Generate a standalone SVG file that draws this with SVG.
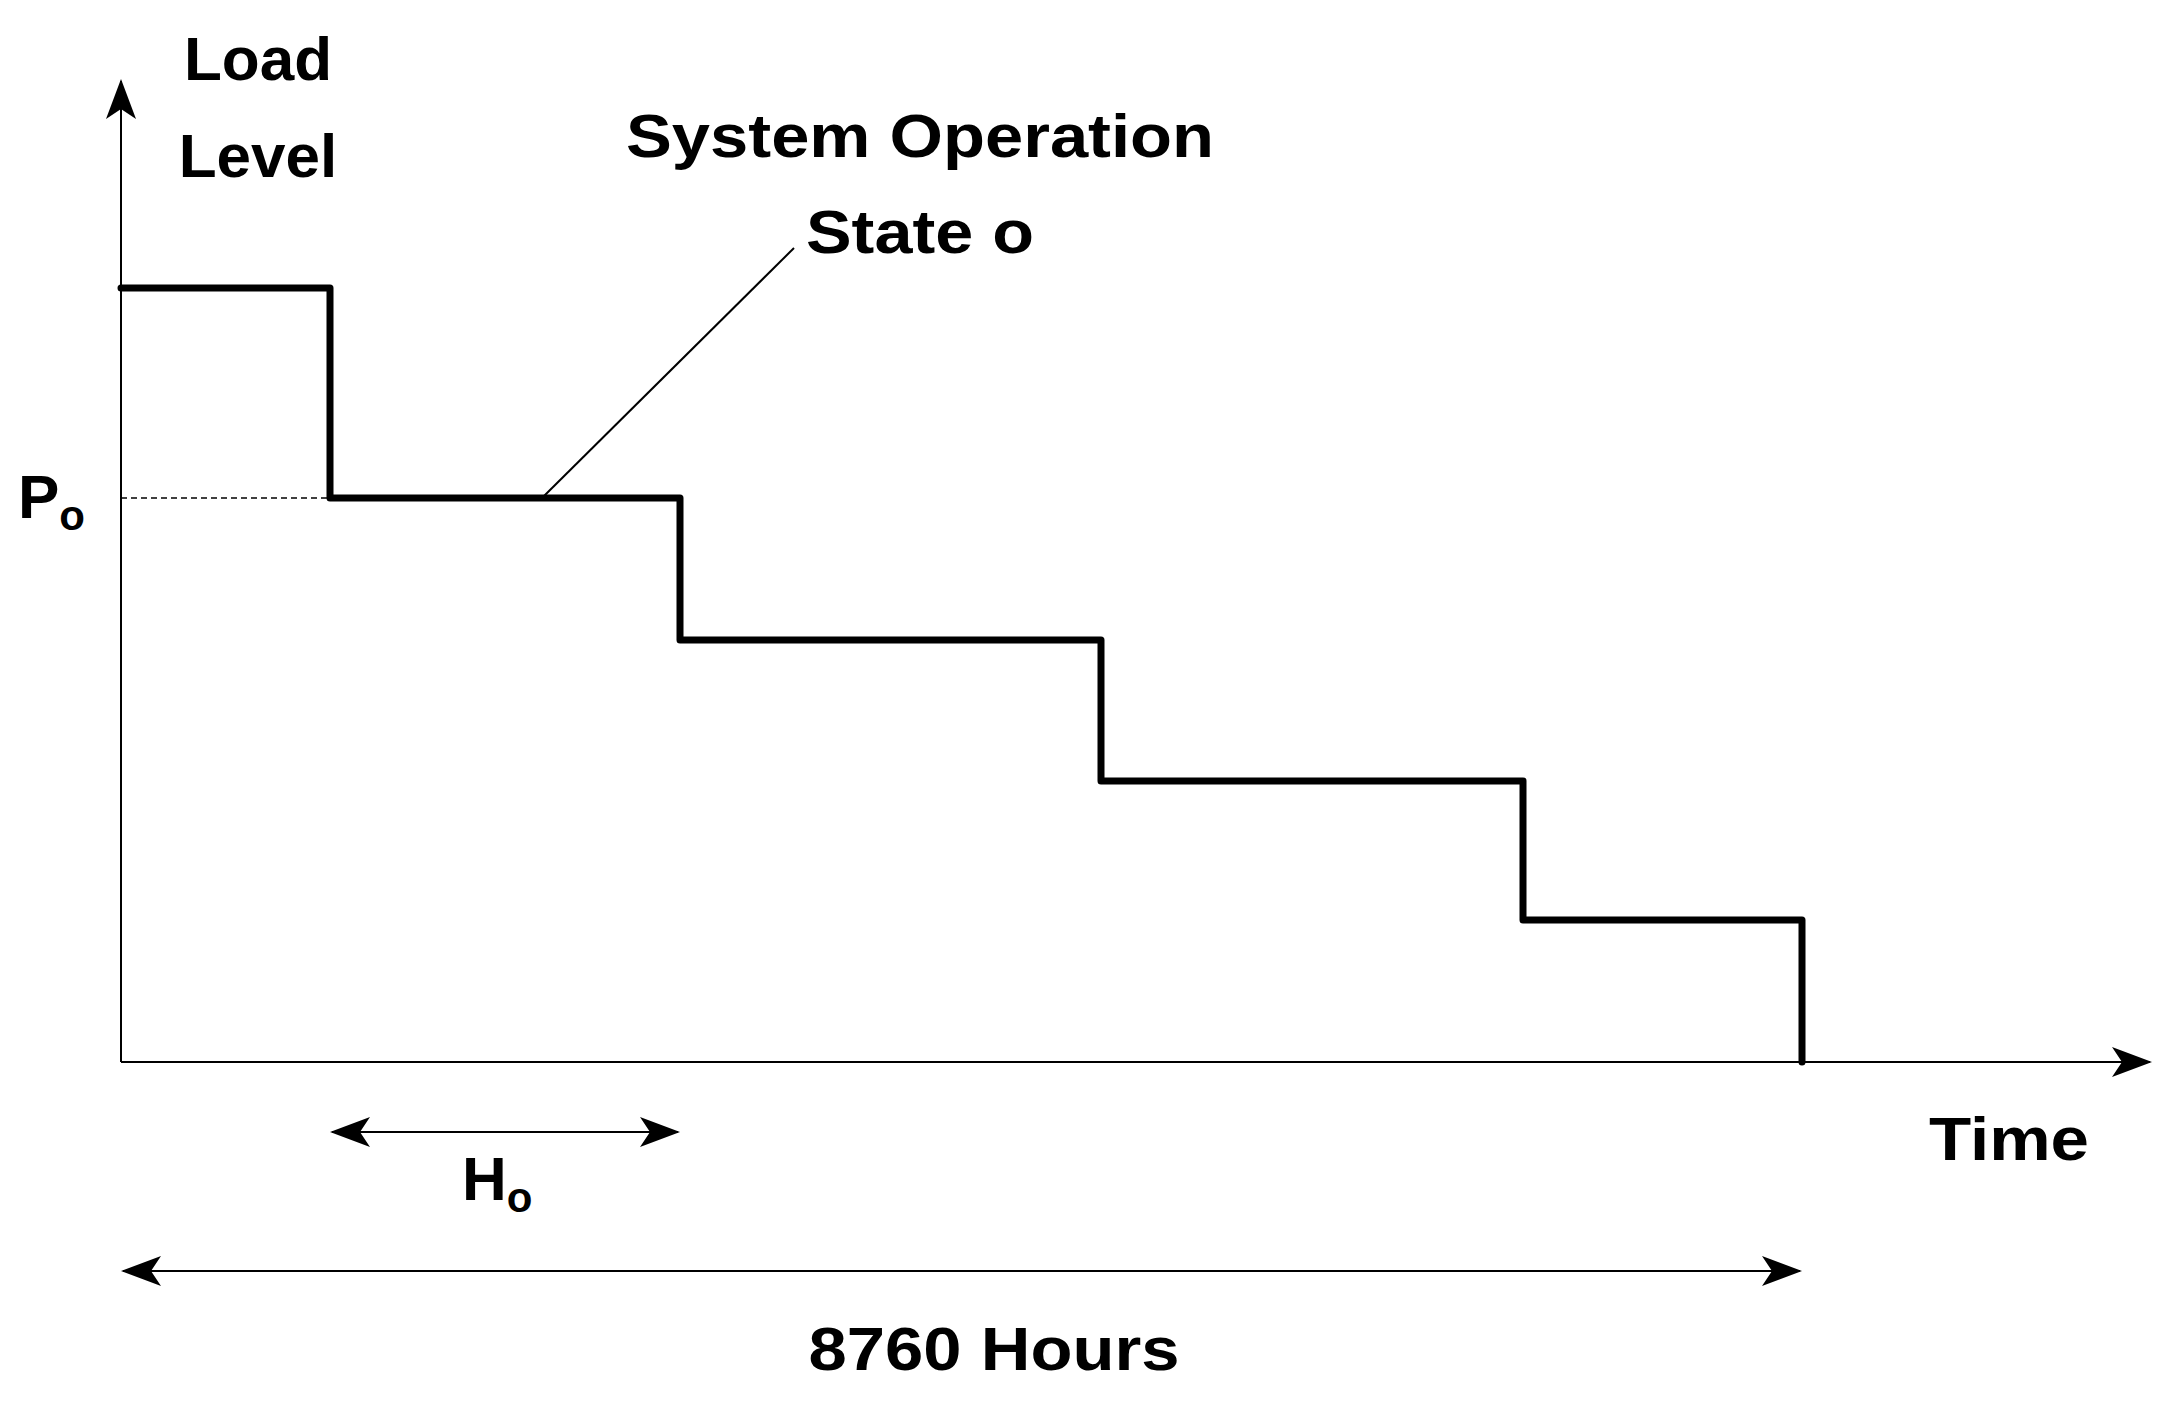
<svg xmlns="http://www.w3.org/2000/svg" width="2176" height="1407" viewBox="0 0 2176 1407">
<style>
text{font-family:"Liberation Sans",Arial,sans-serif;font-weight:bold;fill:#000}
.big{font-size:62px}
.ax{stroke:#000;stroke-width:2;fill:none}
.step{stroke:#000;stroke-width:7;fill:none;stroke-linejoin:round;stroke-linecap:round}
</style>
<defs>
<marker id="ah" viewBox="0 0 40 30" refX="38" refY="15" markerWidth="40" markerHeight="30" markerUnits="userSpaceOnUse" orient="auto-start-reverse">
<path d="M0,0 L40,15 L0,30 L10,15 Z" fill="#000"/>
</marker>
</defs>
<rect width="2176" height="1407" fill="#fff"/>
<g id="connectors">
<line class="ax" x1="121" y1="1062" x2="121" y2="81" marker-end="url(#ah)"/>
<line class="ax" x1="121" y1="1062" x2="2150" y2="1062" marker-end="url(#ah)"/>
<line x1="121" y1="498" x2="330" y2="498" stroke="#000" stroke-width="1.5" stroke-dasharray="6,4"/>
<polyline class="step" points="121,288 330,288 330,498 680,498 680,640 1101,640 1101,781 1523,781 1523,920 1802,920 1802,1062"/>
<line x1="544" y1="496" x2="794" y2="248" stroke="#000" stroke-width="2"/>
<line class="ax" x1="332" y1="1132" x2="678" y2="1132" marker-start="url(#ah)" marker-end="url(#ah)"/>
<line class="ax" x1="123" y1="1271" x2="1800" y2="1271" marker-start="url(#ah)" marker-end="url(#ah)"/>
</g>
<g id="label-load"><text class="big" x="258" y="80" text-anchor="middle">Load</text><text class="big" x="258" y="177" text-anchor="middle">Level</text></g>
<g id="label-state"><text class="big" x="920" y="157" text-anchor="middle" textLength="588" lengthAdjust="spacingAndGlyphs">System Operation</text><text class="big" x="920" y="253" text-anchor="middle" textLength="228" lengthAdjust="spacingAndGlyphs">State o</text></g>
<g id="label-p"><text class="big" x="18" y="518">P<tspan font-size="42" dy="12">o</tspan></text></g>
<g id="label-h"><text class="big" x="462" y="1200">H<tspan font-size="42" dy="12">o</tspan></text></g>
<g id="label-time"><text class="big" x="1929" y="1160" textLength="160" lengthAdjust="spacingAndGlyphs">Time</text></g>
<g id="label-hours"><text class="big" x="994" y="1370" text-anchor="middle" textLength="371" lengthAdjust="spacingAndGlyphs">8760 Hours</text></g>
</svg>
